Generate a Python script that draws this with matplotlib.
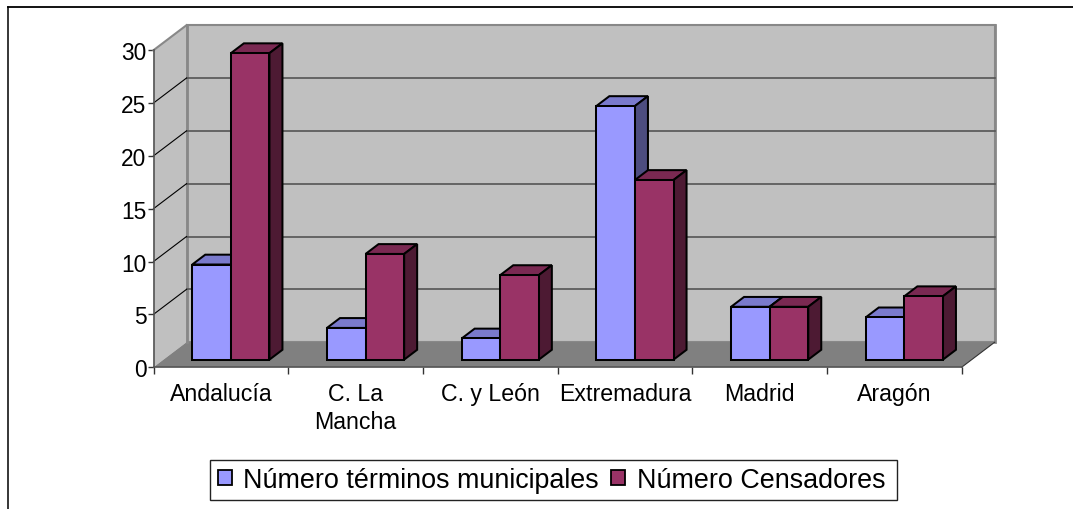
import matplotlib
matplotlib.use("Agg")
import matplotlib.pyplot as plt
from matplotlib.patches import Patch, Rectangle
from matplotlib.lines import Line2D

plt.rcParams['font.family'] = ['Liberation Sans', 'DejaVu Sans']

categories = ['Andalucía', 'C. La\nMancha', 'C. y León', 'Extremadura', 'Madrid', 'Aragón']
terminos = [9, 3, 2, 24, 5, 4]
censadores = [29, 10, 8, 17, 5, 6]
series_names = ['Número términos municipales', 'Número Censadores']
y_ticks = [0, 5, 10, 15, 20, 25, 30]

W, H = 1073, 510
L, R, T, B = 153.5, 961.7, 51.2, 368.2
fig = plt.figure(figsize=(W / 100, H / 100), dpi=100, facecolor='white')
ax = fig.add_axes([L / W, 1 - B / H, (R - L) / W, (B - T) / H])
n = len(categories)
ax.set_xlim(0, n)
ax.set_ylim(0, 30)
ax.patch.set_visible(False)

DX = 33.0 / ((R - L) / n)
DY = 25.0 / ((B - T) / 30)


def P(x, y, d):
    return x + d * DX, y + d * DY


def face(pts, color, z, edge='none', lw=0):
    xs, ys = zip(*[P(*p) for p in pts])
    ax.fill(xs, ys, facecolor=color, edgecolor=edge, linewidth=lw, zorder=z,
            clip_on=False, joinstyle='miter')


WALL, FLOOR, GRID, EDGE = '#C0C0C0', '#808080', '#555555', '#888888'
# back wall, side wall, floor
face([(0, 0, 1), (n, 0, 1), (n, 30, 1), (0, 30, 1)], WALL, 1, EDGE, 1.5)
face([(0, 0, 0), (0, 0, 1), (0, 30, 1), (0, 30, 0)], WALL, 1)
face([(0, 0, 0), (n, 0, 0), (n, 0, 1), (0, 0, 1)], FLOOR, 2)
ax.plot(*zip(P(0, 30, 0), P(0, 30, 1)), color=EDGE, lw=1.5, zorder=2, clip_on=False)
ax.plot(*zip(P(0, 0, 1), P(0, 30, 1)), color=EDGE, lw=2.0, zorder=2, clip_on=False)
ax.plot(*zip(P(n, 0, 1), P(n, 30, 1)), color=EDGE, lw=2.0, zorder=2, clip_on=False)
ax.plot(*zip(P(n, 0, 0), P(n, 0, 1)), color='#333333', lw=0.8, zorder=2, clip_on=False)
for v in y_ticks[1:-1]:
    ax.plot(*zip(P(0, v, 1), P(n, v, 1)), color=GRID, lw=1.2, zorder=2, clip_on=False)
    ax.plot(*zip(P(0, v, 0), P(0, v, 1)), color='black', lw=0.8, zorder=2, clip_on=False)

BLUE = ('#9999FF', '#7A7ACC', '#4D4D80')
MAROON = ('#993366', '#7A2952', '#4D1A33')
BW = 38.6 / ((R - L) / n)
D0, D1 = 10.0 / 33, 23.0 / 33
z = 3


def bar3d(x, v, cols):
    global z
    xa, xb = x, x + BW
    ax.bar(P(xa, 0, D0)[0], v, width=BW, bottom=P(0, 0, D0)[1], align='edge',
           facecolor=cols[0], edgecolor='black', linewidth=1.45, zorder=z + 2, clip_on=False)
    face([(xa, v, D0), (xb, v, D0), (xb, v, D1), (xa, v, D1)], cols[1], z + 1, 'black', 1.45)
    face([(xb, 0, D0), (xb, 0, D1), (xb, v, D1), (xb, v, D0)], cols[2], z + 1, 'black', 1.45)
    z += 3


for i in range(n):
    c = i + 0.5
    bar3d(c - BW, terminos[i], BLUE)
    bar3d(c, censadores[i], MAROON)

ax.set_yticks(y_ticks)
ax.set_xticks(range(n + 1))
ax.set_xticklabels([])
ax.set_xticks([i + 0.5 for i in range(n)], minor=True)
ax.set_xticklabels(categories, minor=True, fontsize=16.7, linespacing=1.27, color='black')
ax.tick_params(axis='x', which='major', length=5, width=1, color='#333333', direction='out')
ax.tick_params(axis='x', which='minor', length=0, pad=11)
ax.tick_params(axis='y', which='major', length=4, width=1, color='#333333', labelsize=16.4, pad=1)
for lab in ax.get_yticklabels():
    lab.set_y(lab.get_position()[1])
for s in ('top', 'right'):
    ax.spines[s].set_visible(False)
for s in ('left', 'bottom'):
    ax.spines[s].set_color('#555555')
    ax.spines[s].set_linewidth(1.2)
    ax.spines[s].set_zorder(2.5)

# outer chart frame (top and left visible)
fig.add_artist(Line2D([7.5 / W, 7.5 / W], [0, 1 - 7.5 / H], color='black', lw=1.1))
fig.add_artist(Line2D([7.5 / W, 1], [1 - 7.5 / H, 1 - 7.5 / H], color='black', lw=1.3))

# legend box
fig.add_artist(Rectangle((209.5 / W, 1 - 500.5 / H), 687.5 / W, 39.5 / H, transform=fig.transFigure,
                         facecolor='white', edgecolor='#222222', linewidth=1.0))
handles = [Patch(facecolor=BLUE[0], edgecolor='black', linewidth=1.3, label=series_names[0]),
           Patch(facecolor=MAROON[0], edgecolor='black', linewidth=1.3, label=series_names[1])]
leg = fig.legend(handles=handles, loc='center', bbox_to_anchor=(551.5 / W, 1 - 481 / H),
                 ncol=2, fontsize=19.4, frameon=False, handlelength=0.52, handleheight=0.52,
                 handletextpad=0.42, columnspacing=0.46, borderpad=0, borderaxespad=0)

fig.savefig('out.png', dpi=100)
